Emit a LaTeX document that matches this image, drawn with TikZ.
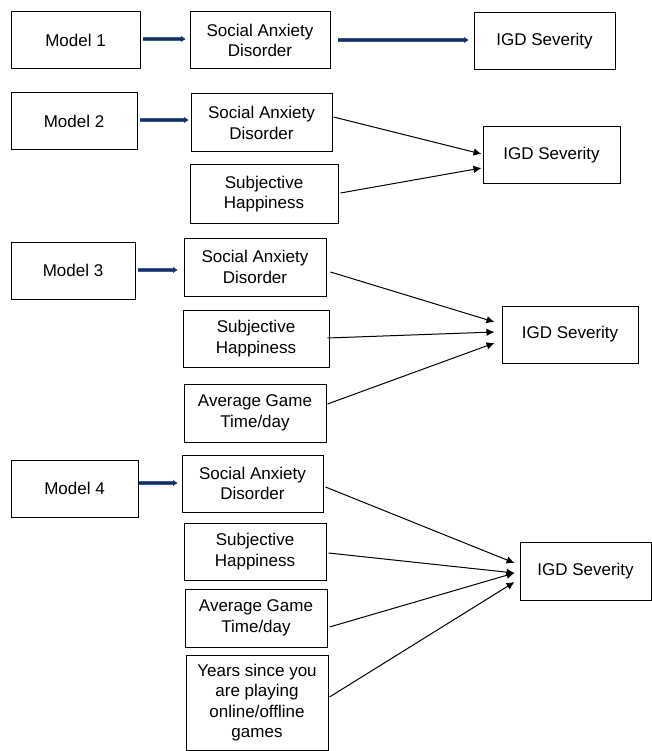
\documentclass[tikz,border=0pt]{standalone}
\usepackage{fontspec}
\setmainfont{Liberation Sans}
\usetikzlibrary{arrows.meta}
\definecolor{navyline}{RGB}{28,46,88}
\definecolor{navyedge}{RGB}{52,92,160}
\begin{document}
\begin{tikzpicture}[x=1pt,y=-1pt,
  box/.style={draw=black,line width=1pt,fill=white,align=center,inner sep=0pt,
    font={\fontsize{17}{20.5}\selectfont}},
  arr/.style={draw=black,line width=1pt,-{Latex[length=8pt,width=7.5pt]}},
  navyarr/.style={draw=navyline,line width=2.4pt,
    preaction={draw=navyedge,line width=3.4pt,-{Latex[length=4.5pt,width=7pt]}},
    -{Latex[length=4pt,width=5.5pt]}}
]
\useasboundingbox (0,0) rectangle (652,751);
% Model 1
\node[box,minimum width=129pt,minimum height=57pt] (m1) at (75.5,40.5) {Model 1};
\node[box,minimum width=140pt,minimum height=57pt] (sad1) at (260,40.5) {Social Anxiety\\Disorder};
\node[box,minimum width=141pt,minimum height=57pt] (igd1) at (544.5,41.5) {IGD Severity};
% Model 2
\node[box,minimum width=126pt,minimum height=57pt] (m2) at (74,121.5) {Model 2};
\node[box,minimum width=141pt,minimum height=58pt] (sad2) at (261.5,123) {Social Anxiety\\Disorder};
\node[box,minimum width=148pt,minimum height=58pt] (sh2) at (264,194) {Subjective\\Happiness};
\node[box,minimum width=137pt,minimum height=57pt] (igd2) at (551.5,155.5) {IGD Severity};
% Model 3
\node[box,minimum width=124pt,minimum height=57pt] (m3) at (73,270.5) {Model 3};
\node[box,minimum width=142pt,minimum height=58pt] (sad3) at (255,267) {Social Anxiety\\Disorder};
\node[box,minimum width=146pt,minimum height=57pt] (sh3) at (256,338.5) {Subjective\\Happiness};
\node[box,minimum width=142pt,minimum height=58pt] (agt3) at (255,413) {Average Game\\Time/day};
\node[box,minimum width=136pt,minimum height=57pt] (igd3) at (570,334.5) {IGD Severity};
% Model 4
\node[box,minimum width=127pt,minimum height=57pt] (m4) at (74.5,488.5) {Model 4};
\node[box,minimum width=141pt,minimum height=57pt] (sad4) at (252.5,483.5) {Social Anxiety\\Disorder};
\node[box,minimum width=142pt,minimum height=57pt] (sh4) at (255,551.5) {Subjective\\Happiness};
\node[box,minimum width=142pt,minimum height=58pt] (agt4) at (256,618) {Average Game\\Time/day};
\node[box,minimum width=142pt,minimum height=95pt] (yrs4) at (257,702.5) {Years since you\\are playing\\online/offline\\games};
\node[box,minimum width=131pt,minimum height=58pt] (igd4) at (585.5,571) {IGD Severity};
% navy arrows
\draw[navyarr,shorten <=2pt,shorten >=4pt] ([yshift=1.5pt]m1.east) -- ([yshift=1.5pt]m1.east -| sad1.west);
\draw[navyarr,shorten <=7pt,shorten >=5pt] ([yshift=0.5pt]sad1.east) -- ([yshift=0.5pt]sad1.east -| igd1.west);
\draw[navyarr,shorten <=2pt,shorten >=2pt] ([yshift=1.5pt]m2.east) -- ([yshift=1.5pt]m2.east -| sad2.west);
\draw[navyarr,shorten <=2pt,shorten >=6pt] ([yshift=0.5pt]m3.east) -- ([yshift=0.5pt]m3.east -| sad3.west);
\draw[navyarr,shorten <=0pt,shorten >=4pt] ([yshift=5.5pt]m4.east) -- ([yshift=5.5pt]m4.east -| sad4.west);
% model 2 arrows
\draw[arr] ([xshift=1pt,yshift=6pt]sad2.east) -- ([xshift=-1pt,yshift=1.5pt]igd2.west);
\draw[arr] ([xshift=2pt,yshift=1pt]sh2.east) -- ([xshift=-1pt,yshift=-12.5pt]igd2.west);
% model 3 arrows
\draw[arr] ([xshift=4pt,yshift=-5pt]sad3.east) -- ([xshift=-7pt,yshift=12.5pt]igd3.west);
\draw[arr] ([xshift=-2pt,yshift=0.5pt]sh3.east) -- ([xshift=-7pt,yshift=2.5pt]igd3.west);
\draw[arr] ([xshift=1pt,yshift=9pt]agt3.east) -- ([xshift=-7pt,yshift=-8.5pt]igd3.west);
% model 4 arrows
\draw[arr] ([xshift=2pt,yshift=-3.5pt]sad4.east) -- ([xshift=-5pt,yshift=8pt]igd4.west);
\draw[arr] ([xshift=2pt,yshift=-1.5pt]sh4.east) -- ([xshift=-5pt,yshift=-2pt]igd4.west);
\draw[arr] ([xshift=2pt,yshift=-9pt]agt4.east) -- ([xshift=-5pt,yshift=-2pt]igd4.west);
\draw[arr] ([xshift=1pt,yshift=5.5pt]yrs4.east) -- ([xshift=-5pt,yshift=-11pt]igd4.west);
\end{tikzpicture}
\end{document}
